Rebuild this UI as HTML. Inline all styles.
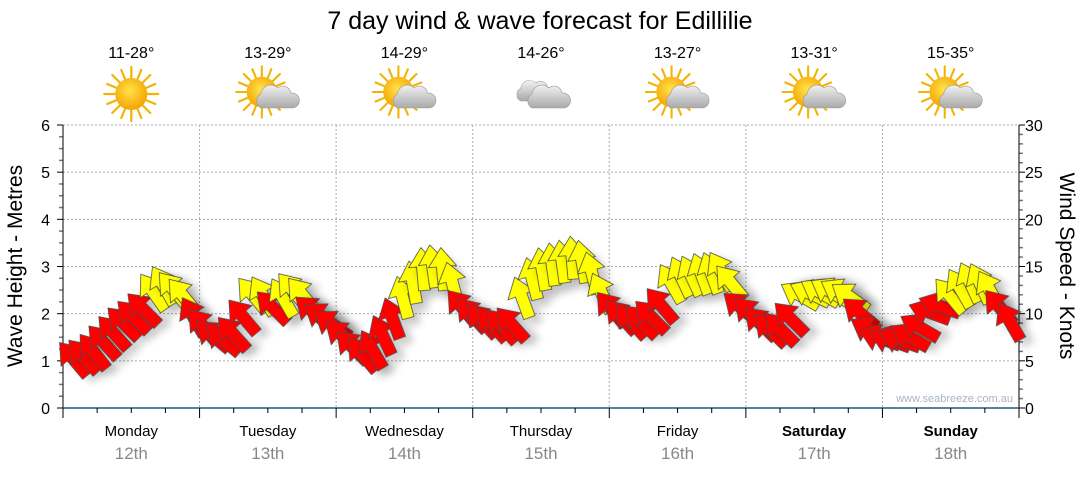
<!DOCTYPE html>
<html><head><meta charset="utf-8"><style>
body{margin:0;background:#fff;font-family:"Liberation Sans",sans-serif}
svg text{font-family:"Liberation Sans","DejaVu Sans",sans-serif}
</style></head><body>
<svg id="c" width="1080" height="475" viewBox="0 0 1080 475" xmlns="http://www.w3.org/2000/svg">
<defs>
<filter id="sh" x="-50%" y="-50%" width="200%" height="200%"><feGaussianBlur in="SourceAlpha" stdDeviation="4"/><feOffset dx="5" dy="8"/><feComponentTransfer><feFuncA type="linear" slope="0.2"/></feComponentTransfer><feMerge><feMergeNode/><feMergeNode in="SourceGraphic"/></feMerge></filter>
<radialGradient id="sunG" cx="45%" cy="40%" r="60%"><stop offset="0" stop-color="#ffe24a"/><stop offset="1" stop-color="#f5a300"/></radialGradient>
<linearGradient id="cloudG" x1="0" y1="0" x2="0" y2="1"><stop offset="0" stop-color="#f2f2f2"/><stop offset="1" stop-color="#a9a9a9"/></linearGradient>
<g id="sun"><g stroke="#f2b400" stroke-width="2.2" stroke-linecap="round">
<line x1="0" y1="-27" x2="0" y2="27"/><line x1="-27" y1="0" x2="27" y2="0"/><line x1="-19" y1="-19" x2="19" y2="19"/><line x1="-19" y1="19" x2="19" y2="-19"/>
<line x1="-10" y1="-24" x2="10" y2="24"/><line x1="10" y1="-24" x2="-10" y2="24"/><line x1="-24" y1="-10" x2="24" y2="10"/><line x1="-24" y1="10" x2="24" y2="-10"/></g>
<circle r="16" fill="url(#sunG)"/></g>
<g id="cloud"><path d="M-16,10 a8,8 0 0,1 0,-14 a10,10 0 0,1 17,-6 a8,8 0 0,1 13,5 a7,7 0 0,1 2,15 z" fill="url(#cloudG)" stroke="#999" stroke-width="0.6"/></g>
</defs>
<text x="540" y="29" font-size="25" text-anchor="middle" fill="#000">7 day wind &amp; wave forecast for Edillilie</text>
<g id="grid"></g><g id="axes"></g><g id="icons"></g><g id="arrows"></g>
<text x="1013" y="402" font-size="11" text-anchor="end" fill="#a8b4c4">www.seabreeze.com.au</text>
<text transform="translate(22,266) rotate(-90)" font-size="21" text-anchor="middle">Wave Height - Metres</text>
<text transform="translate(1060,266) rotate(90)" font-size="21" text-anchor="middle">Wind Speed - Knots</text>
</svg>
<script>
const days=["Monday","Tuesday","Wednesday","Thursday","Friday","Saturday","Sunday"];
const dates=["12th","13th","14th","15th","16th","17th","18th"];
const temps=["11-28°","13-29°","14-29°","14-26°","13-27°","13-31°","15-35°"];
const icons=["sun","partly","partly","cloudy","partly","partly","partly"];
const waveTicks=[0,1,2,3,4,5,6];
const windTicks=[0,5,10,15,20,25,30];
const startHour=2, stepHours=1.75;
const windSpeed=[5.5,5.8,6.3,7.3,8.3,9.3,10.0,10.8,12.6,13.3,12.9,12.2,10.0,9.0,8.0,7.6,8.2,10.0,12.3,12.2,11.0,12.0,12.8,12.3,10.6,10.0,9.2,8.0,6.8,6.0,6.5,8.0,9.8,12.0,13.6,15.0,15.3,15.0,13.5,11.0,10.2,9.6,9.2,9.0,9.2,12.0,14.0,15.0,15.5,15.8,16.2,15.8,14.6,12.5,10.8,10.0,9.5,9.5,10.0,11.2,13.5,14.2,14.3,14.5,14.6,14.8,13.6,11.0,10.3,9.3,8.6,8.7,9.8,12.3,12.5,12.6,12.7,12.6,12.1,10.4,8.6,7.8,7.6,7.6,7.9,8.9,10.5,11.2,12.2,13.0,13.6,13.5,12.8,11.0,9.5];
const windDir=[320,318,322,318,318,315,315,315,325,330,320,320,330,320,310,310,318,320,320,330,315,330,320,320,310,305,305,310,315,320,330,335,340,345,350,355,352,355,345,320,318,318,318,318,318,340,345,350,352,352,355,350,345,335,320,318,318,315,315,320,330,335,335,340,340,330,320,310,315,315,315,315,315,300,295,300,300,300,305,310,300,290,290,290,300,300,290,290,320,330,335,335,330,320,330];
const X0=63,X1=1019,Y0=408,Y1=125,dayW=(X1-X0)/7;
const NS="http://www.w3.org/2000/svg";
function xs(h){return X0+h/24*dayW;}
function yWave(m){return Y0-m/6*(Y0-Y1);}
function yWind(k){return Y0-k/30*(Y0-Y1);}
function mk(t,a,p){const e=document.createElementNS(NS,t);for(const k in a)e.setAttribute(k,a[k]);p.appendChild(e);return e;}
const grid=document.getElementById('grid'),axes=document.getElementById('axes'),ic=document.getElementById('icons'),ar=document.getElementById('arrows');
waveTicks.forEach(v=>{
  if(v>0){const g=mk('line',{x1:X0,x2:X1,y1:yWave(v),y2:yWave(v),stroke:'#aaa','stroke-dasharray':'2,2'},grid);
  
  }
  const t=mk('text',{x:50,y:yWave(v)+6,'font-size':16,'text-anchor':'end'},axes);t.textContent=v;
  
  
});
for(let i=0;i<=24;i++){const y=yWave(i/4);mk('line',{x1:X0-(i%4?4:6),x2:X0,y1:y,y2:y,stroke:i%4?'#777':'#000','stroke-width':i%4?1.5:1},axes);}
windTicks.forEach(v=>{
  const t=mk('text',{x:1025,y:yWind(v)+6,'font-size':16},axes);t.textContent=v;
  
  
});
for(let i=0;i<=30;i++){const y=yWind(i);mk('line',{x1:X1,x2:X1+(i%5?4:6),y1:y,y2:y,stroke:i%5?'#777':'#000','stroke-width':i%5?1.5:1},axes);}
mk('line',{x1:X0,x2:X0,y1:Y1,y2:Y0,stroke:'#000'},axes);
mk('line',{x1:X1,x2:X1,y1:Y1,y2:Y0,stroke:'#000'},axes);
mk('line',{x1:X0,x2:X1,y1:Y0,y2:Y0,stroke:'#1d5a80','stroke-width':1.5},axes);
for(let i=0;i<=28;i++){const x=xs(i*6);mk('line',{x1:x,x2:x,y1:Y0,y2:Y0+(i%4?5:10),stroke:'#000'},axes);}
days.forEach((d,i)=>{
  const cx=xs(i*24+12);
  if(i>0){const g=mk('line',{x1:xs(i*24),x2:xs(i*24),y1:Y1,y2:Y0,stroke:'#aaa','stroke-dasharray':'2,2'},grid);
  
  }
  const t=mk('text',{x:cx,y:436,'font-size':15,'text-anchor':'middle','font-weight':i>=5?'bold':'normal'},axes);t.textContent=d;
  
  
  const t2=mk('text',{x:cx,y:459,'font-size':17,'text-anchor':'middle',fill:'#888'},axes);t2.textContent=dates[i];
  
  
  const t3=mk('text',{x:cx,y:58,'font-size':16,'text-anchor':'middle'},ic);t3.textContent=temps[i];
  
  
  const g=mk('g',{transform:`translate(${cx},94)`},ic);
  
  
  if(icons[i]==='sun'){mk('use',{href:'#sun'},g);}
  else if(icons[i]==='partly'){mk('use',{href:'#sun',transform:'translate(-6,-2) scale(0.95)'},g);mk('use',{href:'#cloud',transform:'translate(9,4)'},g);}
  else{mk('use',{href:'#cloud',transform:'translate(-6,-2) scale(0.9)'},g);mk('use',{href:'#cloud',transform:'translate(7,4)'},g);}
});
const pts="0,-23 14,-4 6,-4 6,20 -6,20 -6,-4 -14,-4";
windSpeed.forEach((k,i)=>{
  const h=startHour+i*stepHours;
  const p=mk('polygon',{points:pts,transform:`translate(${xs(h).toFixed(1)},${(yWind(k)+4).toFixed(1)}) rotate(${windDir[i]})`,fill:k>=11.5?'#ffff00':'#ff0000',stroke:'#444','stroke-width':0.8,filter:'url(#sh)'},ar);
  
  
});
</script>
</body></html>
